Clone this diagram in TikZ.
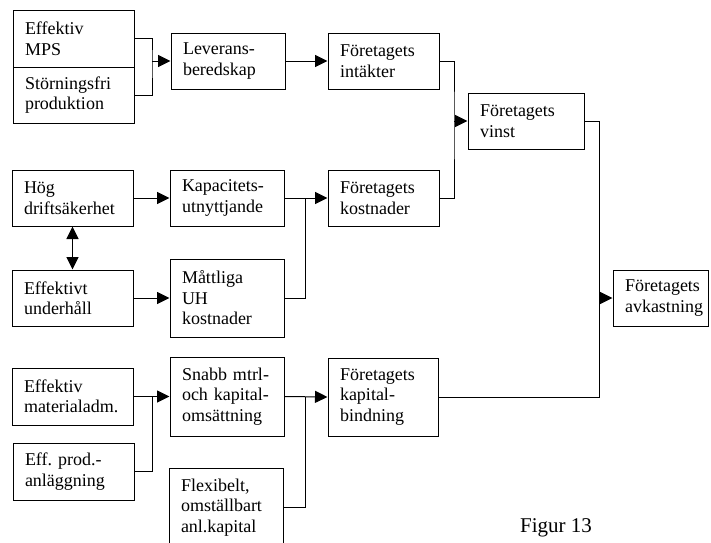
\documentclass[tikz,border=0pt]{standalone}
\usepackage{fontspec}
\setmainfont{Liberation Serif}
\usetikzlibrary{arrows.meta}
\begin{document}
\frenchspacing
\begin{tikzpicture}[x=1pt,y=-1pt,
  box/.style={draw, line width=1pt, inner xsep=12pt, inner ysep=0pt, align=left,
    font=\fontsize{18}{20.5}\selectfont},
  wire/.style={line width=1pt},
  arr/.style={wire, -{Triangle[length=12.5pt,width=12pt]}},
  dbl/.style={wire, {Triangle[length=12.5pt,width=12pt]}-{Triangle[length=12.5pt,width=12pt]}}]
\useasboundingbox (0,0) rectangle (711,542);
\clip (0,0) rectangle (711,542);
% column 1
\node[box, minimum width=121pt, minimum height=57pt, text width=97pt] (mps) at (73.5,38.5) {Effektiv\\MPS};
\node[box, minimum width=121pt, minimum height=56pt, text width=97pt] (stor) at (73.5,95) {Störningsfri\\produktion};
\node[box, minimum width=121pt, minimum height=56pt, text width=97pt] (hog) at (72.5,198) {Hög\\driftsäkerhet};
\node[box, minimum width=121pt, minimum height=56pt, text width=97pt] (eu) at (72.5,298) {Effektivt\\underhåll};
\node[box, minimum width=121pt, minimum height=57pt, text width=97pt] (mat) at (72.5,396.5) {Effektiv\\materialadm.};
\node[box, minimum width=121pt, minimum height=57pt, text width=97pt] (prod) at (73.5,471.5) {Eff. prod.-\\anläggning};
% column 2
\node[box, minimum width=114pt, minimum height=56pt, text width=90pt] (lev) at (228,61) {Leverans-\\beredskap};
\node[box, minimum width=114pt, minimum height=56pt, text width=90pt] (kap) at (227,198) {Kapacitets-\\utnyttjande};
\node[box, minimum width=114pt, minimum height=78pt, text width=90pt] (matt) at (227,298) {Måttliga\\UH\\kostnader};
\node[box, minimum width=114pt, minimum height=79pt, text width=90pt] (snabb) at (227,396.5) {Snabb mtrl-\\och kapital-\\omsättning};
\node[box, minimum width=114pt, minimum height=79pt, text width=90pt] (flex) at (226,507.5) {Flexibelt,\\omställbart\\anl.kapital};
% column 3
\node[box, minimum width=111pt, minimum height=56pt, text width=87pt] (int) at (383.5,61) {Företagets\\intäkter};
\node[box, minimum width=111pt, minimum height=56pt, text width=87pt] (kost) at (383.5,198) {Företagets\\kostnader};
\node[box, minimum width=110pt, minimum height=78pt, text width=86pt] (kapb) at (383,397) {Företagets\\kapital-\\bindning};
% column 4, 5
\node[box, minimum width=116pt, minimum height=56pt, text width=92pt] (vinst) at (526,121) {Företagets\\vinst};
\node[box, minimum width=95pt, minimum height=56pt, text width=71pt] (avk) at (660.5,298) {Företagets\\avkastning};
% caption
\node[anchor=base, inner sep=0pt, font=\fontsize{21}{24}\selectfont] (cap) at (556,532) {Figur 13};
% junctions
\coordinate (j1) at (152,61);
\coordinate (j2) at (454,121);
\coordinate (j3) at (305,198);
\coordinate (j4) at (152,396.5);
\coordinate (j5) at (305,397);
\coordinate (j6) at (599,298);
% connectors
\draw[wire] (mps.east) -| (j1) |- (stor.east);
\draw[arr] (j1) -- (lev.west);
\draw[arr] (lev.east) -- (int.west);
\draw[wire] (int.east) -| (j2) |- (kost.east);
\draw[arr] (j2) -- (vinst.west);
\draw[arr] (hog.east) -- (kap.west);
\draw[arr] (kap.east) -- (kost.west);
\draw[wire] (matt.east) -| (j3);
\draw[dbl] (hog.south) -- (eu.north);
\draw[arr] (eu.east) -- (matt.west);
\draw[arr] (mat.east) -- (snabb.west);
\draw[wire] (prod.east) -| (j4);
\draw[arr] (snabb.east) -- (kapb.west);
\draw[wire] (flex.east) -| (j5);
\draw[wire] (vinst.east) -| (j6) |- (kapb.east);
\draw[arr] (j6) -- (avk.west);
\end{tikzpicture}
\end{document}
